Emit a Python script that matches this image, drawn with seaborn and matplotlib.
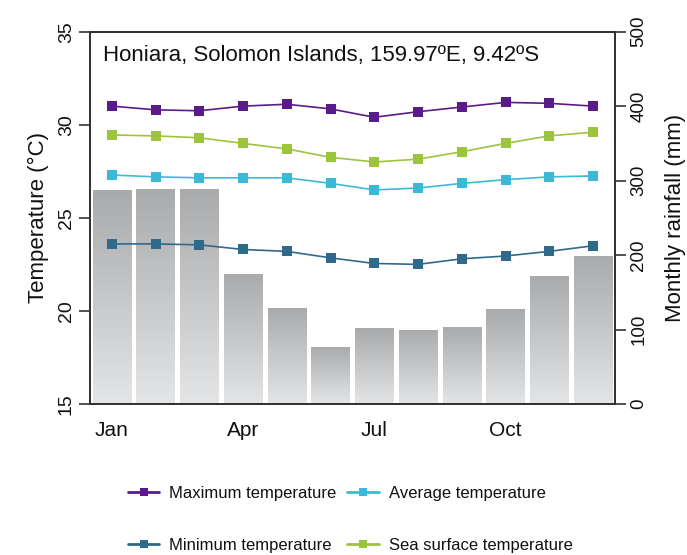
import numpy as np
import pandas as pd
import matplotlib
matplotlib.use("Agg")
import matplotlib.pyplot as plt
import seaborn as sns
from matplotlib.lines import Line2D

# Monthly climate normals for Honiara
months = ["Jan", "Feb", "Mar", "Apr", "May", "Jun",
          "Jul", "Aug", "Sep", "Oct", "Nov", "Dec"]
tick_labels = ["Jan", "", "", "Apr", "", "", "Jul", "", "", "Oct", "", ""]
rainfall = [287, 289, 289, 175, 129, 77, 102, 100, 104, 127, 172, 199]
max_temp = [31.0, 30.8, 30.75, 31.0, 31.1, 30.85, 30.4, 30.7, 30.95, 31.2, 31.15, 31.0]
avg_temp = [27.3, 27.2, 27.15, 27.15, 27.15, 26.85, 26.5, 26.6, 26.85, 27.05, 27.2, 27.25]
min_temp = [23.6, 23.6, 23.55, 23.3, 23.2, 22.85, 22.55, 22.5, 22.8, 22.95, 23.2, 23.5]
sst = [29.45, 29.4, 29.3, 29.0, 28.7, 28.25, 28.0, 28.15, 28.55, 29.0, 29.4, 29.6]

series_names = ["Maximum temperature", "Average temperature",
                "Minimum temperature", "Sea surface temperature"]
series_values = [max_temp, avg_temp, min_temp, sst]
series_colors = ["#5a1a88", "#3db9d8", "#2f6a8b", "#9cc43c"]

sns.set_theme(style="white")
plt.rcParams["font.family"] = ["Liberation Sans", "DejaVu Sans"]
dark = "#333333"
ink = "#111111"

fig = plt.figure(figsize=(6.87, 5.55), dpi=100)
ax_rain = fig.add_axes([0.131, 0.272, 0.764, 0.671])
ax_temp = ax_rain.twinx()

# Rainfall bars with a vertical grey gradient
rain_df = pd.DataFrame({"month": months, "rain": rainfall})
sns.barplot(data=rain_df, x="month", y="rain", ax=ax_rain, width=0.88,
            color="#c0c1c3", edgecolor="white", linewidth=1.0, saturation=1)
grad = np.linspace(0, 1, 256).reshape(-1, 1)
cmap = matplotlib.colors.LinearSegmentedColormap.from_list(
    "rain", ["#e3e5e7", "#a9aaac"])
for patch in ax_rain.patches:
    x0, w, h = patch.get_x(), patch.get_width(), patch.get_height()
    im = ax_rain.imshow(grad, cmap=cmap, origin="lower", aspect="auto",
                        extent=[x0, x0 + w, 0, h], zorder=patch.get_zorder())
    im.set_clip_path(patch)
ax_rain.set_xlim(-0.5, 11.5)
ax_rain.set_ylim(0, 500)
ax_rain.set_yticks([0, 100, 200, 300, 400, 500])
ax_rain.yaxis.tick_right()
ax_rain.yaxis.set_label_position("right")
ax_rain.set_ylabel("Monthly rainfall (mm)", fontsize=16, color=ink,
                   labelpad=13)
ax_rain.set_xlabel("")
ax_rain.set_xticks(range(12))
ax_rain.set_xticklabels(tick_labels)

# Temperature lines
month_idx = np.arange(len(months))
for name, vals, col in zip(series_names, series_values, series_colors):
    sns.lineplot(x=month_idx, y=vals, ax=ax_temp, color=col, marker="s",
                 markersize=6.5, markeredgewidth=0, linewidth=1.2,
                 label=name, legend=False)
ax_temp.set_ylim(15, 35)
ax_temp.set_yticks([15, 20, 25, 30, 35])
ax_temp.yaxis.tick_left()
ax_temp.yaxis.set_label_position("left")
ax_temp.set_ylabel("Temperature (°C)", fontsize=16, color=ink, labelpad=6)
ax_temp.set_xlim(-0.5, 11.5)

for ax in (ax_rain, ax_temp):
    for sp in ax.spines.values():
        sp.set_color(dark)
        sp.set_linewidth(1.4)
    ax.tick_params(axis="y", direction="out", length=8, width=1.2,
                   color=dark, labelcolor=ink, labelrotation=90, pad=3)
    ax.tick_params(axis="x", direction="out", length=10, width=1.2,
                   color=dark, labelcolor=ink, labelsize=15, pad=2)
ax_temp.tick_params(axis="y", labelsize=14)
ax_rain.tick_params(axis="y", labelsize=13.5)
for lbl in ax_temp.get_yticklabels() + ax_rain.get_yticklabels():
    lbl.set_verticalalignment("center")

ax_temp.text(0.024, 0.935, "Honiara, Solomon Islands, 159.97ºE, 9.42ºS",
             transform=ax_temp.transAxes, fontsize=16, va="center",
             ha="left", color=ink)

# Legend below the plot, two entries per row
handles = [Line2D([], [], color=c, marker="s", markersize=6,
                  markeredgewidth=0, linewidth=2) for c in series_colors]
order = [0, 2, 1, 3]
fig.legend([handles[i] for i in order], [series_names[i] for i in order],
           ncol=2, loc="center", bbox_to_anchor=(0.51, 0.064),
           frameon=False, fontsize=12, labelspacing=2.2, columnspacing=0.65,
           handlelength=1.9, handletextpad=0.6, labelcolor=ink)

fig.savefig("out.png", dpi=100)
